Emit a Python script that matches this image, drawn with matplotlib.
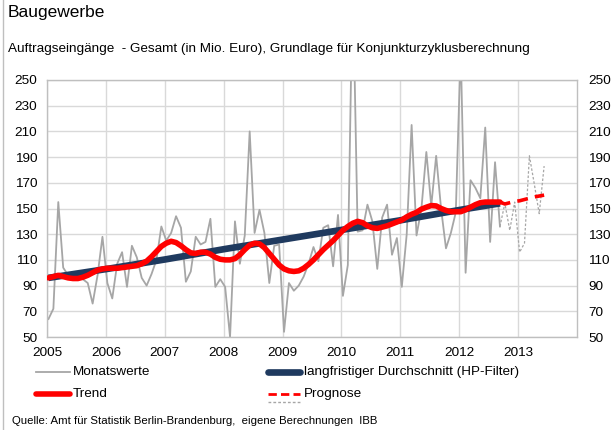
import numpy as np
import matplotlib
matplotlib.use("Agg")
import matplotlib.pyplot as plt
from matplotlib.lines import Line2D

plt.rcParams['font.family'] = ['Liberation Sans', 'DejaVu Sans']

# Monatswerte Jan 2005 - Sep 2012
monthly = [
    64, 72, 155, 104, 98, 97, 96, 95, 92, 76, 98, 128,
    92, 80, 107, 116, 89, 121, 112, 96, 90, 99, 110, 136,
    125, 131, 144, 135, 93, 101, 128, 122, 124, 142, 89, 95,
    89, 50, 140, 107, 129, 210, 131, 149, 131, 92, 121, 122,
    54, 92, 86, 90, 97, 107, 120, 109, 135, 137, 105, 145,
    82, 106, 330, 132, 133, 153, 140, 103, 143, 153, 114, 127,
    89, 130, 215, 129, 150, 194, 152, 191, 150, 119, 131, 147,
    275, 100, 172, 166, 158, 213, 124, 186, 136,
]
# Trend Jan 2005 - Sep 2012
trend = [
    96, 97, 98, 97, 96, 95.5, 95.5, 96.5, 98, 100, 102, 103,
    103.5, 103.5, 103.5, 104, 104.5, 105, 105.5, 107, 109, 112.5, 116.5, 120.5,
    123, 124.5, 123.5, 121, 118, 115.5, 115, 116, 116, 114.5, 112, 110.5,
    110, 110, 111, 114, 118, 121.5, 123, 122.5, 119.5, 115, 110.5, 106,
    103, 101.5, 101, 101.5, 103.5, 106.5, 110, 114, 118, 121.5, 125, 129,
    133, 136, 138.5, 140, 139, 136.5, 135, 134.5, 135.5, 136.5, 138, 139.5,
    141, 143.5, 145.5, 147, 149.5, 151, 152.3, 152, 150, 148.5, 147.5, 147.5,
    147.5, 149, 151, 153, 154.5, 155, 155, 155, 155,
]
# HP-Filter, Stuetzstellen jeweils Januar + Sep 2012
hp_months = [0, 12, 24, 36, 48, 60, 72, 84, 92]
hp_values = [96, 103, 110.5, 118.5, 126, 133.5, 141, 149, 154]

# Prognose Sep 2012 - Jun 2013
prog_months = [92, 93, 94, 95, 96, 97, 98, 99, 100, 101]
prog_monthly = [136, 154, 133, 155, 116, 123, 191, 169, 146, 183]
prog_trend = [155, 153.5, 154.5, 155.5, 156, 157, 158, 159, 159.7, 160.4]

years = list(range(2005, 2014))
yticks = list(range(50, 251, 20))

FS = 9.7


def to_x(months):
    return 2005 + (np.asarray(months) + 0.3) / 12.0


def fx(px):
    return px / 611


def fy(py):
    return 1 - py / 430


fig = plt.figure(figsize=(6.11, 4.30), dpi=100)
ax = fig.add_axes([47 / 611, 93 / 430, 530 / 611, 257 / 430])

grid_col = '#d9d9d9'
for yv in yticks:
    ax.axhline(yv, color=grid_col, lw=1.0, zorder=0)
for yr in years:
    ax.axvline(yr, color=grid_col, lw=1.0, zorder=0)

mx = to_x(range(len(monthly)))
ax.plot(mx, monthly, color='#a6a6a6', lw=1.3, zorder=2)
ax.plot(to_x(prog_months), prog_monthly, color='#a6a6a6', lw=0.9,
        ls=(0, (2, 1.5)), zorder=2)
ax.plot(to_x(hp_months), hp_values, color='#1f3a5f', lw=4.8,
        solid_capstyle='butt', zorder=3)
ax.plot(to_x(range(len(trend))), trend, color='#ff0000', lw=4.0,
        solid_capstyle='round', zorder=4)
ax.plot(to_x(prog_months), prog_trend, color='#ff0000', lw=2.6,
        ls=(0, (3, 2)), zorder=4)

ax.set_xlim(2005, 2014)
ax.set_ylim(50, 250)
ax.set_yticks(yticks)
ax.set_xticks(years)
ax.set_xticklabels([str(y) for y in years])
ax.tick_params(length=0, labelsize=FS, pad=7)
for s in ax.spines.values():
    s.set_color('#bfbfbf')
    s.set_linewidth(1.0)

ax2 = ax.twinx()
ax2.set_ylim(50, 250)
ax2.set_yticks(yticks)
ax2.tick_params(length=0, labelsize=FS, pad=8)
for s in ax2.spines.values():
    s.set_visible(False)

# Titel
fig.text(fx(8), fy(13), 'Baugewerbe', fontsize=12.5, va='center')
fig.text(fx(8), fy(49),
         'Auftragseingänge  - Gesamt (in Mio. Euro), Grundlage für Konjunkturzyklusberechnung',
         fontsize=FS, va='center')

# Legende
fig.add_artist(Line2D([fx(36), fx(70)], [fy(372), fy(372)], color='#a6a6a6', lw=1.3))
fig.text(fx(73), fy(372), 'Monatswerte', fontsize=FS, va='center')
fig.add_artist(Line2D([fx(268), fx(300)], [fy(372), fy(372)], color='#1f3a5f', lw=4.8,
                      solid_capstyle='round'))
fig.text(fx(304), fy(372), 'langfristiger Durchschnitt (HP-Filter)', fontsize=FS, va='center')
fig.add_artist(Line2D([fx(36), fx(70)], [fy(394), fy(394)], color='#ff0000', lw=4.0,
                      solid_capstyle='round'))
fig.text(fx(73), fy(394), 'Trend', fontsize=FS, va='center')
fig.add_artist(Line2D([fx(268), fx(300)], [fy(394), fy(394)], color='#ff0000', lw=2.0,
                      ls=(0, (3, 1.5))))
fig.add_artist(Line2D([fx(268), fx(300)], [fy(402), fy(402)], color='#a6a6a6', lw=1.0,
                      ls=(0, (2, 1.5))))
fig.text(fx(304), fy(394), 'Prognose', fontsize=FS, va='center')

fig.text(fx(12), fy(421), 'Quelle: Amt für Statistik Berlin-Brandenburg,  eigene Berechnungen  IBB',
         fontsize=8.2, va='center')

# Rahmen links
fig.add_artist(Line2D([fx(3), fx(3)], [0, 1], color='#bfbfbf', lw=1.0))

fig.savefig('out.png', dpi=100)
